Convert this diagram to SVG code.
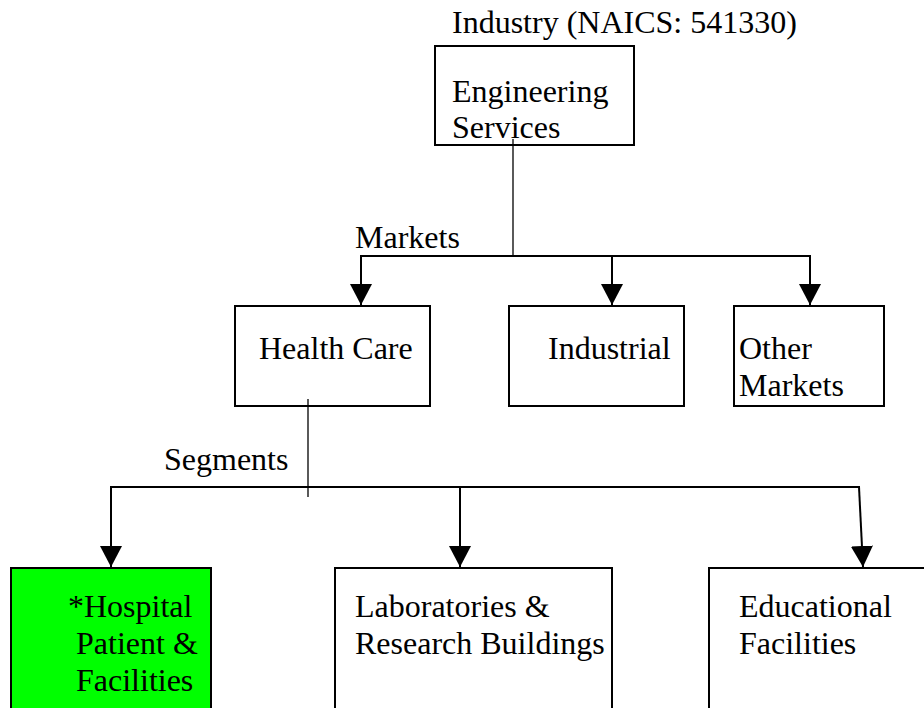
<svg xmlns="http://www.w3.org/2000/svg" width="924" height="708" viewBox="0 0 924 708">
<style>
.box{fill:#fff;stroke:#000;stroke-width:2}
.green{fill:#00ff00;stroke:#000;stroke-width:2}
.ln{fill:none;stroke:#000;stroke-width:2}
.thin{fill:none;stroke:#000;stroke-width:1.3}
</style>
<defs>
<marker id="ahd" markerUnits="userSpaceOnUse" markerWidth="22" markerHeight="22" viewBox="0 0 22 22" refX="21" refY="11" orient="auto">
<path d="M0,0 L21,11 L0,22 Z" fill="#000"/>
</marker>
</defs>
<rect width="924" height="708" fill="#fff"/>
<text font-family="Liberation Serif" font-size="32" x="452" y="33">Industry (NAICS: 541330)</text>
<g id="eng">
<rect class="box" x="435" y="46" width="199" height="99"/>
<text font-family="Liberation Serif" font-size="32" x="452" y="102">Engineering</text>
<text font-family="Liberation Serif" font-size="32" x="452" y="138">Services</text>
</g>
<g id="health">
<rect class="box" x="235" y="306" width="195" height="100"/>
<text font-family="Liberation Serif" font-size="32" x="259" y="359">Health Care</text>
</g>
<g id="industrial">
<rect class="box" x="509" y="306" width="175" height="100"/>
<text font-family="Liberation Serif" font-size="32" x="548" y="359">Industrial</text>
</g>
<g id="other">
<rect class="box" x="734" y="306" width="150" height="100"/>
<text font-family="Liberation Serif" font-size="32" x="739" y="359">Other</text>
<text font-family="Liberation Serif" font-size="32" x="739" y="396">Markets</text>
</g>
<g id="hospital">
<rect class="green" x="11" y="568" width="200" height="150"/>
<text font-family="Liberation Serif" font-size="32" x="68" y="617">*Hospital</text>
<text font-family="Liberation Serif" font-size="32" x="76" y="654">Patient &amp;</text>
<text font-family="Liberation Serif" font-size="32" x="76" y="691">Facilities</text>
</g>
<g id="labs">
<rect class="box" x="335" y="568" width="277" height="150"/>
<text font-family="Liberation Serif" font-size="32" x="355" y="617">Laboratories &amp;</text>
<text font-family="Liberation Serif" font-size="32" x="355" y="654">Research Buildings</text>
</g>
<g id="edu">
<rect class="box" x="709" y="568" width="230" height="150"/>
<text font-family="Liberation Serif" font-size="32" x="739" y="617">Educational</text>
<text font-family="Liberation Serif" font-size="32" x="739" y="654">Facilities</text>
</g>
<g id="connectors">
<line class="thin" x1="513" y1="139" x2="513" y2="256"/>
<line class="ln" x1="360" y1="256" x2="811" y2="256"/>
<line class="ln" x1="361" y1="256" x2="361" y2="305" marker-end="url(#ahd)"/>
<line class="ln" x1="612" y1="256" x2="612" y2="305" marker-end="url(#ahd)"/>
<line class="ln" x1="810" y1="256" x2="810" y2="305" marker-end="url(#ahd)"/>
<line class="thin" x1="308" y1="399" x2="308" y2="497"/>
<line class="ln" x1="110" y1="487" x2="860" y2="487"/>
<line class="ln" x1="111" y1="487" x2="111" y2="567" marker-end="url(#ahd)"/>
<line class="ln" x1="460" y1="487" x2="460" y2="567" marker-end="url(#ahd)"/>
<line class="ln" x1="859" y1="487" x2="863" y2="567" marker-end="url(#ahd)"/>
</g>
<text font-family="Liberation Serif" font-size="32" x="355" y="248">Markets</text>
<text font-family="Liberation Serif" font-size="32" x="164" y="470">Segments</text>
</svg>
